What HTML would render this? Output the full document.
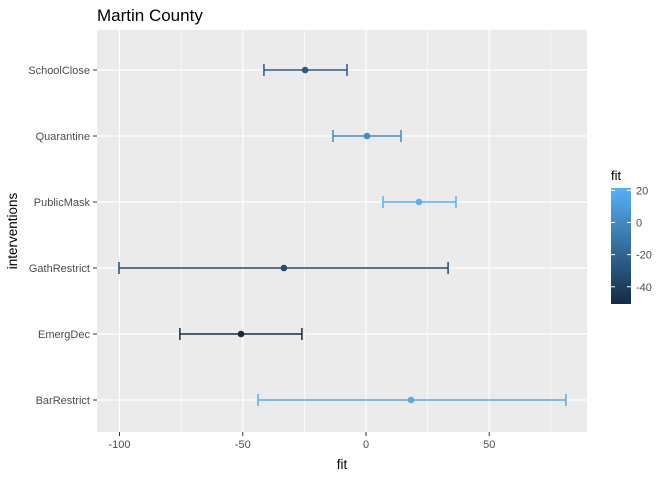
<!DOCTYPE html>
<html><head><meta charset="utf-8"><style>
body{margin:0;background:#fff;font-family:"Liberation Sans",Arial,sans-serif}
</style></head><body>
<svg id="chart" width="672" height="480" xmlns="http://www.w3.org/2000/svg">
<defs><linearGradient id="lg" x1="0" y1="1" x2="0" y2="0"><stop offset="0" stop-color="#132B43"/><stop offset="1" stop-color="#56B1F7"/></linearGradient></defs>
<text x="97" y="21" font-size="17" fill="#000">Martin County</text>
<rect x="97" y="30" width="490" height="402" fill="#EBEBEB"/>
<g id="grid"></g><g id="marks"></g><g id="axes"></g>
<text x="342" y="469" font-size="13.5" text-anchor="middle" fill="#000">fit</text>
<text transform="translate(17,231) rotate(-90)" font-size="13.5" text-anchor="middle" fill="#000">interventions</text>
<text x="611" y="180" font-size="13" fill="#000">fit</text>
<rect x="611" y="188" width="20" height="116" fill="url(#lg)"/>
<g id="legend"></g>
</svg>
<script>
const categories=["SchoolClose","Quarantine","PublicMask","GathRestrict","EmergDec","BarRestrict"];
const fitValues=[-24.7,0.4,21.5,-33.3,-50.7,18.3];
const lowerValues=[-41.4,-13.4,6.9,-100.2,-75.5,-43.8];
const upperValues=[-7.7,14.2,36.5,33.3,-26,81.1];
const xTicks=[-100,-50,0,50];
const xMinor=[-75,-25,25,75];
const legendTicks=[20,0,-20,-40];
const NS="http://www.w3.org/2000/svg";
const X=v=>366+v*2.465;
const Y=i=>70+i*66;
const fMin=Math.min(...fitValues),fMax=Math.max(...fitValues);
const LY=v=>304-(v-fMin)/(fMax-fMin)*116;
function col(v){const t=(v-fMin)/(fMax-fMin);const a=[0x13,0x2B,0x43],b=[0x56,0xB1,0xF7];return "rgb("+a.map((c,k)=>Math.round(c+(b[k]-c)*t)).join(",")+")";}
function el(p,tag,at){const e=document.createElementNS(NS,tag);for(const k in at)e.setAttribute(k,at[k]);p.appendChild(e);return e;}
const g=document.getElementById("grid"),m=document.getElementById("marks"),ax=document.getElementById("axes"),lg=document.getElementById("legend");
xMinor.forEach(v=>{if(X(v)<97||X(v)>587)return;const l=el(g,"line",{x1:X(v),x2:X(v),y1:30,y2:432,stroke:"#fff","stroke-width":0.6});

});
xTicks.forEach(v=>{const l=el(g,"line",{x1:X(v),x2:X(v),y1:30,y2:432,stroke:"#fff","stroke-width":1.2});


const t=el(ax,"line",{x1:X(v),x2:X(v),y1:432,y2:436,stroke:"#333","stroke-width":1});


const tx=el(ax,"text",{x:X(v),y:448,"font-size":11,"text-anchor":"middle",fill:"#4D4D4D"});tx.textContent=v;

});
categories.forEach((c,i)=>{const y=Y(i);
const l=el(g,"line",{x1:97,x2:587,y1:y,y2:y,stroke:"#fff","stroke-width":1.2});


const t=el(ax,"line",{x1:93,x2:97,y1:y,y2:y,stroke:"#333","stroke-width":1});


const tx=el(ax,"text",{x:90,y:y+4,"font-size":11,"text-anchor":"end",fill:"#4D4D4D"});tx.textContent=c;


const cc=col(fitValues[i]);
const eb=el(m,"path",{d:`M${X(lowerValues[i])},${y-6}V${y+6}M${X(lowerValues[i])},${y}H${X(upperValues[i])}M${X(upperValues[i])},${y-6}V${y+6}`,stroke:cc,"stroke-width":1.5,fill:"none"});


const p=el(m,"circle",{cx:X(fitValues[i]),cy:y,r:3.3,fill:cc});

});
legendTicks.forEach(v=>{const y=LY(v);
const a=el(lg,"path",{d:`M611,${y}h4M627,${y}h4`,stroke:"#fff","stroke-width":1});


const tx=el(lg,"text",{x:636,y:y+4,"font-size":11,fill:"#4D4D4D"});tx.textContent=v;

});
</script>
</body></html>
